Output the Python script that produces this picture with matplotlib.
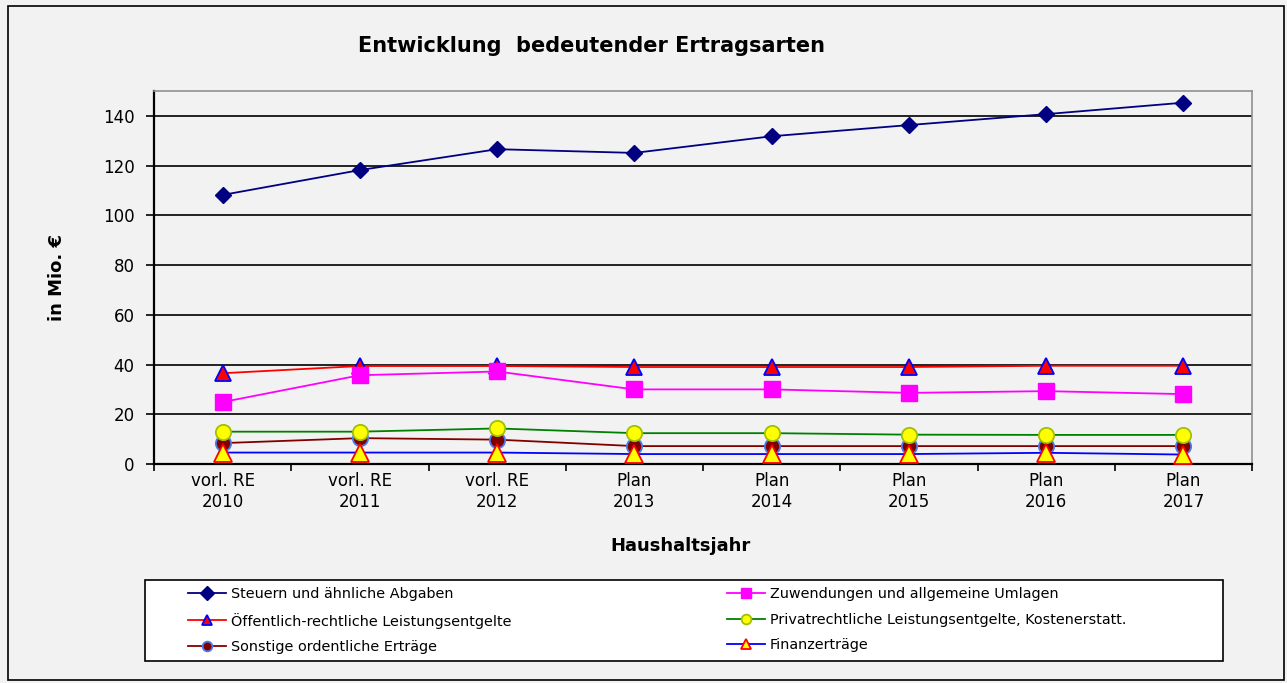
import matplotlib.pyplot as plt
from matplotlib.patches import Rectangle

categories = ["vorl. RE\n2010", "vorl. RE\n2011", "vorl. RE\n2012", "Plan\n2013",
              "Plan\n2014", "Plan\n2015", "Plan\n2016", "Plan\n2017"]

steuern = [108.2, 118.2, 126.6, 125.1, 131.8, 136.3, 140.7, 145.3]
zuwendungen = [24.9, 35.7, 37.2, 30.0, 30.0, 28.6, 29.3, 28.1]
oeffentlich = [36.5, 39.4, 39.4, 39.0, 39.0, 39.0, 39.5, 39.5]
privat = [13.0, 13.0, 14.3, 12.4, 12.4, 11.8, 11.7, 11.7]
sonstige = [8.4, 10.4, 9.8, 7.2, 7.2, 7.2, 7.2, 7.2]
finanz = [4.6, 4.6, 4.6, 4.0, 4.0, 4.0, 4.5, 3.8]

bg = "#f2f2f2"
W, H = 1287, 683
fig = plt.figure(figsize=(W / 100, H / 100), dpi=100, facecolor=bg)

# outer chart border
fig.patches.append(Rectangle((8 / W, 1 - 680 / H), 1276 / W, 674 / H, transform=fig.transFigure,
                             fill=False, edgecolor="black", linewidth=1.2))
# legend box
fig.patches.append(Rectangle((145 / W, 1 - 661 / H), 1078 / W, 81 / H, transform=fig.transFigure,
                             facecolor="white", edgecolor="black", linewidth=1.2))

ax = fig.add_axes([154 / W, 1 - 464 / H, 1098 / W, 373 / H])
ax.set_facecolor(bg)

x = range(len(categories))
l1, = ax.plot(x, steuern, color="#000080", lw=1.3, marker="D", ms=8,
              mfc="#000080", mec="#000080", label="Steuern und ähnliche Abgaben", zorder=5)
l3, = ax.plot(x, oeffentlich, color="red", lw=1.3, marker="^", ms=11,
              mfc="red", mec="blue", mew=1.3, label="Öffentlich-rechtliche Leistungsentgelte", zorder=5)
l5, = ax.plot(x, sonstige, color="#800000", lw=1.3, marker="o", ms=11,
              mfc="#800000", mec="#4a7cf0", mew=1.3, label="Sonstige ordentliche Erträge", zorder=5)
l2, = ax.plot(x, zuwendungen, color="#ff00ff", lw=1.3, marker="s", ms=11,
              mfc="#ff00ff", mec="#ff00ff", label="Zuwendungen und allgemeine Umlagen", zorder=5)
l4, = ax.plot(x, privat, color="green", lw=1.3, marker="o", ms=11,
              mfc="yellow", mec="#a0c000", mew=1.3,
              label="Privatrechtliche Leistungsentgelte, Kostenerstatt.", zorder=5)
l6, = ax.plot(x, finanz, color="blue", lw=1.3, marker="^", ms=13,
              mfc="yellow", mec="red", mew=1.3, label="Finanzerträge", zorder=6)

ax.set_xlim(-0.5, len(categories) - 0.5)
ax.set_ylim(0, 150)
ax.set_yticks(range(0, 141, 20))
ax.set_xticks(list(x))
ax.set_xticklabels(categories, fontsize=12)
ax.tick_params(axis="x", length=0, pad=6)
ax.set_xticks([i - 0.5 for i in range(len(categories) + 1)], minor=True)
ax.tick_params(axis="x", which="minor", length=5, direction="out", color="black", width=1.2)
ax.tick_params(axis="y", labelsize=12, length=6, direction="out", width=1.2, pad=8)
ax.grid(axis="y", color="black", lw=1.2)
ax.set_axisbelow(True)

for s in ["top", "right"]:
    ax.spines[s].set_color("#909090")
    ax.spines[s].set_linewidth(1.2)
for s in ["left", "bottom"]:
    ax.spines[s].set_linewidth(1.6)

ax.set_ylabel("in Mio. €", fontsize=13, fontweight="bold")
ax.yaxis.set_label_coords(-97 / 1098, 0.5)
ax.yaxis.label.set_va("center")
ax.set_xlabel("Haushaltsjahr", fontsize=13, fontweight="bold")
ax.xaxis.set_label_coords((680 - 154) / 1098, (464 - 546) / 373)
ax.xaxis.label.set_va("center")
fig.text(592 / W, 1 - 46 / H, "Entwicklung  bedeutender Ertragsarten", fontsize=15,
         fontweight="bold", ha="center", va="center")

leg = fig.legend(handles=[l1, l3, l5, l2, l4, l6], loc="upper left", ncol=2,
                 bbox_to_anchor=(188 / W, 1 - 587 / H), fontsize=10.4, frameon=False,
                 handlelength=2.6, handletextpad=0.35, borderpad=0, borderaxespad=0,
                 labelspacing=0.8, columnspacing=14.95)
for h in leg.legend_handles:
    h.set_markersize(7)

fig.savefig("out.png", dpi=100, facecolor=bg)
